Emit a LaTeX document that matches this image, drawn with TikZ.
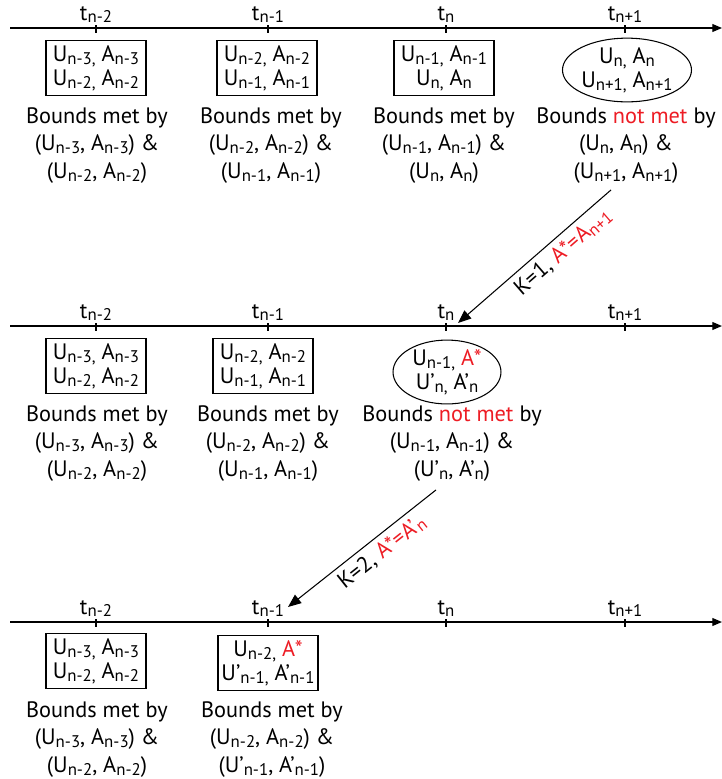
\documentclass[tikz,border=0pt]{standalone}
\usepackage{fontspec}
\setmainfont{PT Sans}
\usetikzlibrary{arrows.meta,shapes.geometric,calc}

\definecolor{notmet}{RGB}{237,28,36}
\newcommand\sub[1]{\raisebox{-0.25ex}{\fontsize{9.6}{9.6}\selectfont #1}}
\newcommand\red[1]{\textcolor{notmet}{#1}}

\begin{document}
\begin{tikzpicture}[x=0.02cm, y=-0.02cm,
    axis/.style={line width=0.7pt, -{Triangle[length=5.5pt, width=4.5pt]}},
    tickmark/.style={line width=0.6pt},
    tlabel/.style={above, inner sep=1pt, font=\fontsize{12.7}{14}\selectfont},
    pair/.style={draw, line width=0.6pt, minimum width=2cm, minimum height=1.1cm,
        inner sep=1pt, align=center, font=\fontsize{12.7}{13.6}\selectfont},
    oval/.style={ellipse, draw, line width=0.6pt, minimum width=2.16cm,
        minimum height=1.2cm, inner sep=0pt, align=center,
        font=\fontsize{12.7}{13.6}\selectfont},
    bounds/.style={anchor=north, inner sep=0pt, align=center,
        font=\fontsize{12.7}{15.8}\selectfont},
    jump/.style={line width=0.6pt, -{Triangle[length=7.5pt, width=6pt]}},
    jumplabel/.style={sloped, below, inner sep=3pt, font=\fontsize{12.7}{14}\selectfont}]

    \useasboundingbox (0,0) rectangle (722,779);

    % erste Zeile
    \begin{scope}[shift={(0,28)}]
        % Zeitachse
        \draw[axis] (10,0) -- (722,0);
        \draw[tickmark] (96,-3) -- (96,5);
        \draw[tickmark] (268,-3) -- (268,5);
        \draw[tickmark] (446,-3) -- (446,5);
        \draw[tickmark] (625,-3) -- (625,5);
        \node[tlabel] (ta1) at (96,-3) {t\sub{n-2}};
        \node[tlabel] (ta2) at (268,-3) {t\sub{n-1}};
        \node[tlabel] (ta3) at (446,-3) {t\sub{n}};
        \node[tlabel] (ta4) at (625,-3) {t\sub{n+1}};

        % Paare
        \node[pair] (pa1) at (96,40) {U\sub{n-3,} A\sub{n-3}\\U\sub{n-2,} A\sub{n-2}};
        \node[pair] (pa2) at (267,40) {U\sub{n-2,} A\sub{n-2}\\U\sub{n-1,} A\sub{n-1}};
        \node[pair] (pa3) at (444,40) {U\sub{n-1,} A\sub{n-1}\\U\sub{n,} A\sub{n}};
        \node[oval] (pa4) at (627,42) {U\sub{n,} A\sub{n}\\U\sub{n+1,} A\sub{n+1}};

        % Beschriftung
        \node[bounds] (ba1) at (97,79) {Bounds met by\\(U\sub{n-3}, A\sub{n-3}) \&\\(U\sub{n-2}, A\sub{n-2})};
        \node[bounds] (ba2) at (271,79) {Bounds met by\\(U\sub{n-2}, A\sub{n-2}) \&\\(U\sub{n-1}, A\sub{n-1})};
        \node[bounds] (ba3) at (444,79) {Bounds met by\\(U\sub{n-1}, A\sub{n-1}) \&\\(U\sub{n}, A\sub{n})};
        \node[bounds] (ba4) at (626,79) {Bounds \red{not met} by\\(U\sub{n}, A\sub{n}) \&\\(U\sub{n+1}, A\sub{n+1})};
    \end{scope}

    % zweite Zeile
    \begin{scope}[shift={(0,326)}]
        % Zeitachse
        \draw[axis] (10,0) -- (722,0);
        \draw[tickmark] (96,-3) -- (96,5);
        \draw[tickmark] (268,-3) -- (268,5);
        \draw[tickmark] (446,-3) -- (446,5);
        \draw[tickmark] (625,-3) -- (625,5);
        \node[tlabel] (tb1) at (96,-3) {t\sub{n-2}};
        \node[tlabel] (tb2) at (268,-3) {t\sub{n-1}};
        \node[tlabel] (tb3) at (446,-3) {t\sub{n}};
        \node[tlabel] (tb4) at (625,-3) {t\sub{n+1}};
        \coordinate (hitb) at (458,-3);

        % Paare
        \node[pair] (pb1) at (96,40) {U\sub{n-3,} A\sub{n-3}\\U\sub{n-2,} A\sub{n-2}};
        \node[pair] (pb2) at (263,40) {U\sub{n-2,} A\sub{n-2}\\U\sub{n-1,} A\sub{n-1}};
        \node[oval] (pb3) at (447,46) {U\sub{n-1,} \red{A*}\\U’\sub{n,} A’\sub{n}};

        % Beschriftung
        \node[bounds] (bb1) at (97,79) {Bounds met by\\(U\sub{n-3}, A\sub{n-3}) \&\\(U\sub{n-2}, A\sub{n-2})};
        \node[bounds] (bb2) at (268,79) {Bounds met by\\(U\sub{n-2}, A\sub{n-2}) \&\\(U\sub{n-1}, A\sub{n-1})};
        \node[bounds] (bb3) at (452,79) {Bounds \red{not met} by\\(U\sub{n-1}, A\sub{n-1}) \&\\(U’\sub{n}, A’\sub{n})};
    \end{scope}

    % dritte Zeile
    \begin{scope}[shift={(0,622)}]
        % Zeitachse
        \draw[axis] (10,0) -- (722,0);
        \draw[tickmark] (96,-3) -- (96,5);
        \draw[tickmark] (268,-3) -- (268,5);
        \draw[tickmark] (446,-3) -- (446,5);
        \draw[tickmark] (625,-3) -- (625,5);
        \node[tlabel] (tc1) at (96,-3) {t\sub{n-2}};
        \node[tlabel] (tc2) at (268,-3) {t\sub{n-1}};
        \node[tlabel] (tc3) at (446,-3) {t\sub{n}};
        \node[tlabel] (tc4) at (625,-3) {t\sub{n+1}};
        \coordinate (hitc) at (288,-15);

        % Paare
        \node[pair] (pc1) at (96,39) {U\sub{n-3,} A\sub{n-3}\\U\sub{n-2,} A\sub{n-2}};
        \node[pair] (pc2) at (268,41) {U\sub{n-2,} \red{A*}\\U’\sub{n-1,} A’\sub{n-1}};

        % Beschriftung
        \node[bounds] (bc1) at (97,79) {Bounds met by\\(U\sub{n-3}, A\sub{n-3}) \&\\(U\sub{n-2}, A\sub{n-2})};
        \node[bounds] (bc2) at (272,79) {Bounds met by\\(U\sub{n-2}, A\sub{n-2}) \&\\(U’\sub{n-1}, A’\sub{n-1})};
    \end{scope}

    % Spruenge
    \draw[jump] ($(ba4.south)+(-15,6)$) -- (hitb)
        node[jumplabel, pos=0.38] {K=1, \red{A*=A\sub{n+1}}};
    \draw[jump] ($(bb3.south)+(-16,8)$) -- (hitc)
        node[jumplabel, pos=0.43] {K=2, \red{A*=A’\sub{n}}};
\end{tikzpicture}
\end{document}
